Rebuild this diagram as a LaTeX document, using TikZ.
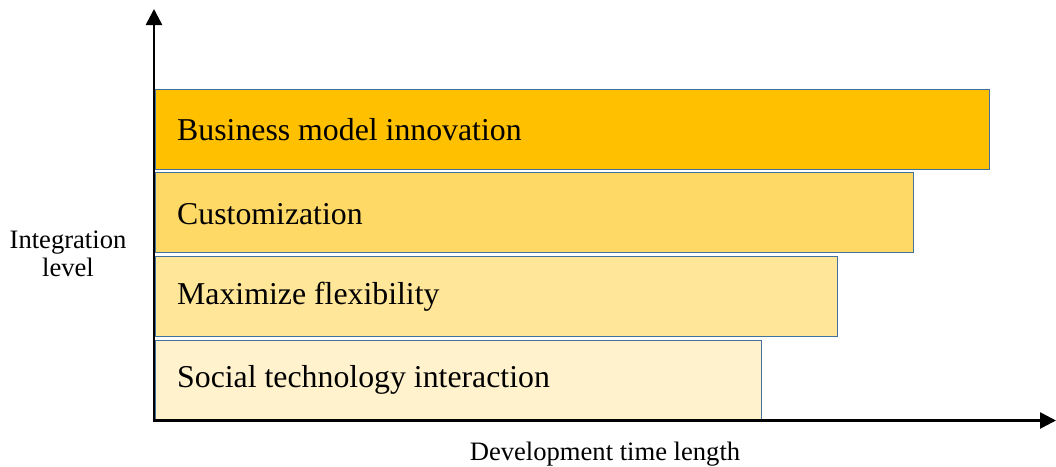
\documentclass[tikz,border=0pt]{standalone}
\usepackage{fontspec}
\setmainfont{Liberation Serif}
\usetikzlibrary{arrows.meta}
\definecolor{barA}{HTML}{FFC000}
\definecolor{barB}{HTML}{FFD966}
\definecolor{barC}{HTML}{FFE699}
\definecolor{barD}{HTML}{FFF2CC}
\definecolor{barEdge}{HTML}{41719C}
\tikzset{
  bar/.style={draw=barEdge, line width=1pt, anchor=north west, inner sep=0pt, minimum height=80pt},
  bartext/.style={anchor=west, font=\fontsize{31.8pt}{36pt}\selectfont, inner sep=0pt},
  axislabel/.style={font=\fontsize{26.6pt}{28pt}\selectfont, align=center, inner sep=0pt},
  axis/.style={line width=2.6pt, -{Triangle[length=16pt,width=16pt]}}
}
\begin{document}
\begin{tikzpicture}[x=1pt,y=-1pt]
\useasboundingbox (0,0) rectangle (1056,466);
\node[bar, fill=barA, minimum width=834pt] (b1) at (155,89) {};
\node[bar, fill=barB, minimum width=758pt] (b2) at (155,172) {};
\node[bar, fill=barC, minimum width=682pt] (b3) at (155,256) {};
\node[bar, fill=barD, minimum width=606pt] (b4) at (155,339.5) {};
\node[bartext] (t1) at (177,130) {Business model innovation};
\node[bartext] (t2) at (177,214) {Customization};
\node[bartext] (t3) at (177,297) {Maximize flexibility};
\node[bartext] (t4) at (177,380) {Social technology interaction};
\coordinate (o) at (154,420.5);
\coordinate (ytip) at (154,9);
\coordinate (xtip) at (1056,420.5);
\draw[axis] (o) -- (ytip);
\draw[axis] ([xshift=-1.3pt]o) -- (xtip);
\node[axislabel] (yl) at (68,254) {Integration\\level};
\node[axislabel] (xl) at (605,454) {Development time length};
\end{tikzpicture}
\end{document}
